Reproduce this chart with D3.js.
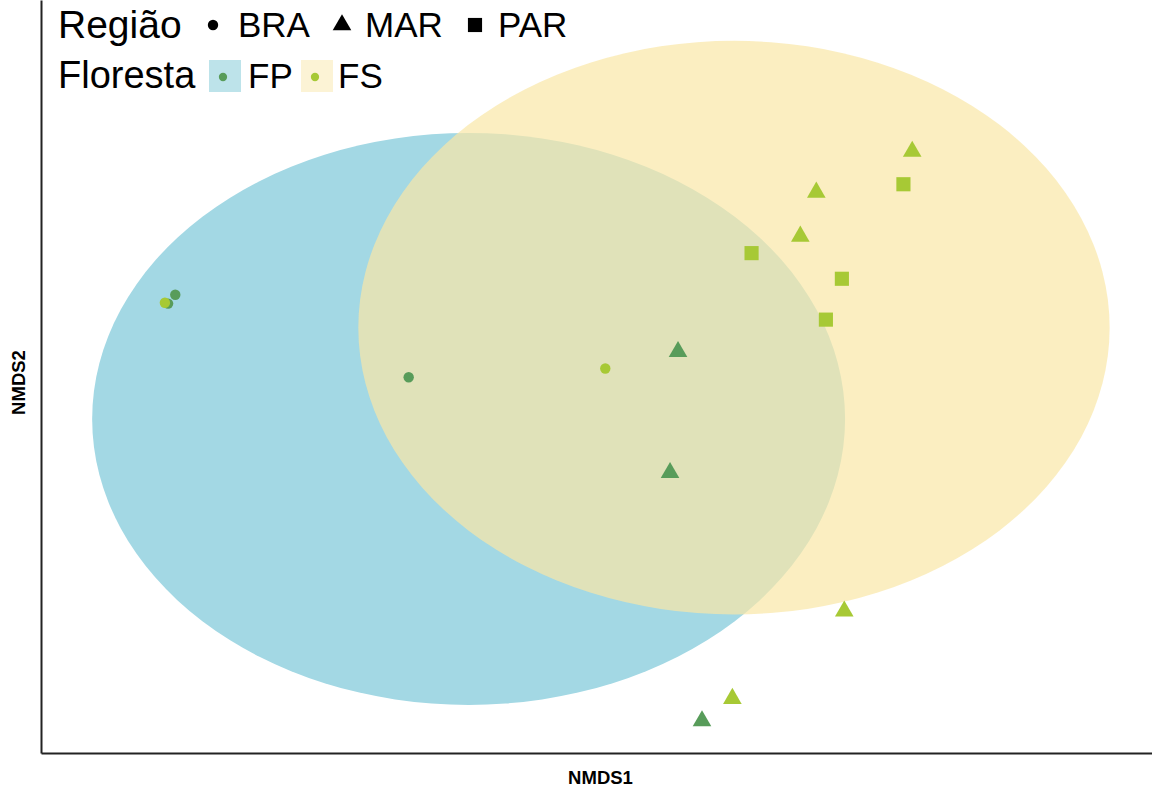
<!DOCTYPE html>
<html>
<head>
<meta charset="utf-8">
<script src="https://cdn.jsdelivr.net/npm/d3@7"></script>
<style>
  html, body { margin: 0; padding: 0; background: #ffffff; }
  svg { display: block; font-family: "Liberation Sans", Arial, sans-serif; }
</style>
</head>
<body>
<svg id="chart" width="1152" height="789"></svg>
<script>
// NMDS site scores, one array per forest type
const fpRegion = ["BRA", "BRA", "BRA", "MAR", "MAR", "MAR"];
const fpNMDS1  = [-0.532, -0.541, -0.240, 0.097, 0.087, 0.127];
const fpNMDS2  = [0.102, 0.091, -0.001, 0.031, -0.120, -0.430];

const fsRegion = ["BRA", "BRA", "MAR", "MAR", "MAR", "MAR", "MAR", "PAR", "PAR", "PAR", "PAR"];
const fsNMDS1  = [-0.545, 0.006, 0.390, 0.270, 0.250, 0.305, 0.165, 0.379, 0.189, 0.302, 0.282];
const fsNMDS2  = [0.092, 0.010, 0.281, 0.230, 0.175, -0.293, -0.402, 0.240, 0.154, 0.122, 0.071];

// Confidence ellipses per forest type: centre and semi-axes in NMDS units
const forestTypes    = ["FP", "FS"];
const ellipseCentre1 = [-0.165, 0.167];
const ellipseCentre2 = [-0.053, 0.061];
const ellipseRadius1 = [0.471, 0.470];
const ellipseRadius2 = [0.357, 0.358];

const regions = ["BRA", "MAR", "PAR"];

const svg = d3.select("#chart");
const W = 1152, H = 789;
const margin = { left: 41, right: 0, top: 0, bottom: 36 };

const x = d3.scaleLinear().domain([-0.70, 0.69]).range([margin.left, W - margin.right]);
const y = d3.scaleLinear().domain([-0.47, 0.47]).range([H - margin.bottom, margin.top]);

const pointColour  = d3.scaleOrdinal().domain(forestTypes).range(["#589c5a", "#a7c935"]);
const ellipseFill  = d3.scaleOrdinal().domain(forestTypes).range(["#a3d8e4", "#f9e7a7"]);
const ellipseAlpha = d3.scaleOrdinal().domain(forestTypes).range([1, 0.7]);
const keyFill      = d3.scaleOrdinal().domain(forestTypes).range(["#bde3ea", "#fcf3d5"]);
const shape = d3.scaleOrdinal().domain(regions).range([d3.symbolCircle, d3.symbolTriangle, d3.symbolSquare]);
const shapeSize = d3.scaleOrdinal().domain(regions).range([85, 150, 200]);

// ellipses
const ellipses = forestTypes.map((f, i) => ({
  f, c1: ellipseCentre1[i], c2: ellipseCentre2[i], r1: ellipseRadius1[i], r2: ellipseRadius2[i]
}));
svg.append("g").selectAll("ellipse").data(ellipses).join("ellipse")
  .attr("cx", d => x(d.c1))
  .attr("cy", d => y(d.c2))
  .attr("rx", d => x(d.c1 + d.r1) - x(d.c1))
  .attr("ry", d => y(d.c2) - y(d.c2 + d.r2))
  .attr("fill", d => ellipseFill(d.f))
  .attr("fill-opacity", d => ellipseAlpha(d.f));

// points
const pts = [
  ...fpRegion.map((r, i) => ({ f: "FP", r, v1: fpNMDS1[i], v2: fpNMDS2[i] })),
  ...fsRegion.map((r, i) => ({ f: "FS", r, v1: fsNMDS1[i], v2: fsNMDS2[i] }))
];
svg.append("g").selectAll("path").data(pts).join("path")
  .attr("transform", d => `translate(${x(d.v1)},${y(d.v2)})`)
  .attr("d", d => d3.symbol().type(shape(d.r)).size(shapeSize(d.r))())
  .attr("fill", d => pointColour(d.f));

// axes: plain lines, no ticks
const xAxis = d3.axisBottom(x).tickValues([]).tickSizeOuter(0);
const yAxis = d3.axisLeft(y).tickValues([]).tickSizeOuter(0);
svg.append("g").attr("transform", `translate(0,${H - margin.bottom})`).call(xAxis)
  .select(".domain").attr("stroke", "#222").attr("stroke-width", 2);
svg.append("g").attr("transform", `translate(${margin.left},0)`).call(yAxis)
  .select(".domain").attr("stroke", "#222").attr("stroke-width", 2);

svg.append("text")
  .attr("x", (margin.left + W - margin.right) / 2 + 4)
  .attr("y", 784)
  .attr("text-anchor", "middle")
  .attr("font-weight", "bold")
  .attr("font-size", 18.5)
  .text("NMDS1");
svg.append("text")
  .attr("transform", `translate(25,${(margin.top + H - margin.bottom) / 2 + 6}) rotate(-90)`)
  .attr("text-anchor", "middle")
  .attr("font-weight", "bold")
  .attr("font-size", 18.5)
  .text("NMDS2");

// legends
const lg = svg.append("g").attr("fill", "#000");
lg.append("text").attr("x", 58).attr("y", 38).attr("font-size", 39).text("Região");
const regionKeyX = [213, 342, 475];
const regionLabelX = [238, 365, 498];
regions.forEach((r, i) => {
  lg.append("path")
    .attr("transform", `translate(${regionKeyX[i]},25)`)
    .attr("d", d3.symbol().type(shape(r)).size(shapeSize(r))())
    .attr("fill", "#000");
  lg.append("text").attr("x", regionLabelX[i]).attr("y", 37).attr("font-size", 35).text(r);
});

lg.append("text").attr("x", 58).attr("y", 88).attr("font-size", 38).text("Floresta");
const forestKeyX = [209, 301];
const forestLabelX = [248, 338];
forestTypes.forEach((f, i) => {
  lg.append("rect")
    .attr("x", forestKeyX[i]).attr("y", 60).attr("width", 32).attr("height", 32)
    .attr("fill", keyFill(f));
  lg.append("path")
    .attr("transform", `translate(${forestKeyX[i] + 14},77)`)
    .attr("d", d3.symbol().type(d3.symbolCircle).size(54)())
    .attr("fill", pointColour(f));
  lg.append("text").attr("x", forestLabelX[i]).attr("y", 88).attr("font-size", 35).text(f);
});
</script>
</body>
</html>
